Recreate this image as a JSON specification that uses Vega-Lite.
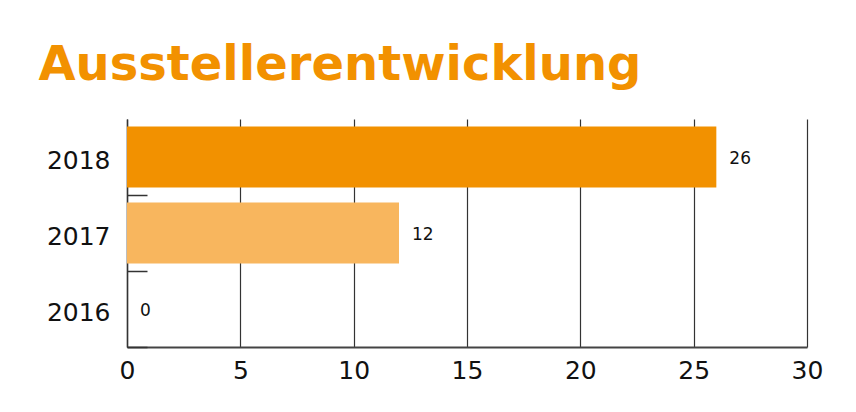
{
  "$schema": "https://vega.github.io/schema/vega-lite/v6.json",
  "autosize": "none",
  "width": 680,
  "height": 228,
  "padding": {"left": 127, "top": 119, "right": 49, "bottom": 65},
  "background": "white",
  "title": {
    "text": "Ausstellerentwicklung",
    "anchor": "start",
    "frame": "bounds",
    "font": "DejaVu Sans",
    "fontSize": 48,
    "fontWeight": "bold",
    "color": "#F29100",
    "offset": 29,
    "dx": -8
  },
  "config": {
    "view": {"stroke": null},
    "font": "DejaVu Sans"
  },
  "data": {
    "values": [
      {"year": "2018", "value": 26},
      {"year": "2017", "value": 12},
      {"year": "2016", "value": 0}
    ]
  },
  "encoding": {
    "y": {
      "field": "year",
      "type": "nominal",
      "sort": ["2018", "2017", "2016"],
      "scale": {"paddingInner": 0.2, "paddingOuter": 0.1},
      "axis": {
        "title": null,
        "labelFontSize": 25,
        "labelColor": "#111",
        "labelPadding": 37,
        "domainColor": "#333",
        "domainWidth": 1.5,
        "tickColor": "#333",
        "tickWidth": 1.5,
        "tickSize": -20,
        "tickOffset": 38,
        "labelOffset": -35,
        "grid": false
      }
    },
    "x": {
      "field": "value",
      "type": "quantitative",
      "scale": {"domain": [0, 30]},
      "axis": {
        "title": null,
        "values": [0, 5, 10, 15, 20, 25, 30],
        "labelFontSize": 25,
        "labelColor": "#111",
        "labelPadding": 11,
        "labelFlush": false,
        "ticks": false,
        "domainColor": "#444",
        "domainWidth": 2,
        "grid": true,
        "gridColor": "#333",
        "gridWidth": 1.2,
        "gridOpacity": 1
      }
    }
  },
  "layer": [
    {
      "mark": {"type": "bar"},
      "encoding": {
        "color": {
          "field": "year",
          "type": "nominal",
          "scale": {"domain": ["2018", "2017", "2016"], "range": ["#F29100", "#F8B65E", "#F8B65E"]},
          "legend": null
        }
      }
    },
    {
      "mark": {"type": "text", "align": "left", "baseline": "middle", "dx": 13, "dy": 2, "fontSize": 17, "color": "#111"},
      "encoding": {"text": {"field": "value", "type": "quantitative"}}
    }
  ]
}
